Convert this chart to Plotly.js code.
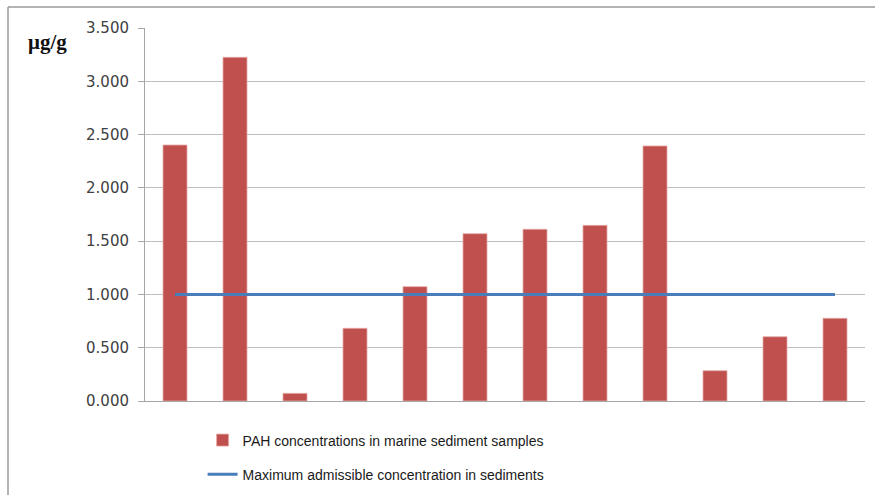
<!DOCTYPE html>
<html>
<head>
<meta charset="utf-8">
<script src="https://cdn.plot.ly/plotly-3.0.1.min.js"></script>
<style>html,body{margin:0;padding:0;background:#fff;}#chart{width:875px;height:495px;}</style>
</head>
<body>
<div id="chart"></div>
<script>
const samples = ["1","2","3","4","5","6","7","8","9","10","11","12"];
const pahValues = [2.402, 3.225, 0.072, 0.682, 1.073, 1.570, 1.611, 1.648, 2.393, 0.284, 0.603, 0.776];
const limitValues = [1, 1, 1, 1, 1, 1, 1, 1, 1, 1, 1, 1];
const yTicks = [0, 0.5, 1, 1.5, 2, 2.5, 3, 3.5];
const barName = "PAH concentrations in marine sediment samples";
const lineName = "Maximum admissible concentration in sediments";
const unitLabel = "μg/g";

const traces = [
  {
    type: "bar", x: samples, y: pahValues, name: barName,
    legendgroup: "a",
    marker: {color: "#C0504D", line: {color: "#E4A9A7", width: 0.8}},
    hoverinfo: "y"
  },
  {
    type: "scatter", mode: "lines", x: samples, y: limitValues, name: lineName,
    legendgroup: "b",
    line: {color: "#4A7EBB", width: 3},
    hoverinfo: "y"
  }
];

const layout = {
  width: 875, height: 495,
  margin: {l: 145, r: 10, t: 28, b: 94, autoexpand: false},
  paper_bgcolor: "#ffffff", plot_bgcolor: "#ffffff",
  bargap: 0.6,
  showlegend: true,
  legend: {
    x: 0.08, xanchor: "left", y: -0.063, yanchor: "top",
    orientation: "v", traceorder: "grouped", tracegroupgap: 13,
    font: {family: "Liberation Sans, Arial, sans-serif", size: 14, color: "#1a1a1a"},
    bgcolor: "rgba(0,0,0,0)"
  },
  xaxis: {
    type: "category", range: [-0.5, 11.5],
    showticklabels: false, showgrid: false, zeroline: false,
    showline: true, linecolor: "#A6A6A6", linewidth: 1, ticks: ""
  },
  yaxis: {
    range: [0, 3.5], tickvals: yTicks, tickformat: ".3f",
    showgrid: true, gridcolor: "#BEBEBE", gridwidth: 1,
    zeroline: false, showline: true, linecolor: "#A6A6A6", linewidth: 1,
    ticks: "outside", ticklen: 6, tickcolor: "#A6A6A6",
    tickfont: {family: "DejaVu Sans, Verdana, sans-serif", size: 15, color: "#404040"},
    ticklabelstandoff: 6
  },
  annotations: [
    {text: "<b>" + unitLabel + "</b>", xref: "paper", yref: "paper",
     x: (47 - 145) / 720, y: (401 - 42) / 373, xanchor: "center", yanchor: "middle",
     showarrow: false,
     font: {family: "Liberation Serif, Times New Roman, serif", size: 21, color: "#111"}}
  ],
  shapes: [
    {type: "line", xref: "paper", yref: "paper",
     x0: (8 - 145) / 720, x1: (8 - 145) / 720, y0: (401 - 7) / 373, y1: (401 - 500) / 373,
     line: {color: "#9A9A9A", width: 1.5}},
    {type: "line", xref: "paper", yref: "paper",
     x0: (8 - 145) / 720, x1: (880 - 145) / 720, y0: (401 - 7) / 373, y1: (401 - 7) / 373,
     line: {color: "#9A9A9A", width: 1.5}}
  ]
};

Plotly.newPlot("chart", traces, layout, {displayModeBar: false, staticPlot: true});
</script>
</body>
</html>
